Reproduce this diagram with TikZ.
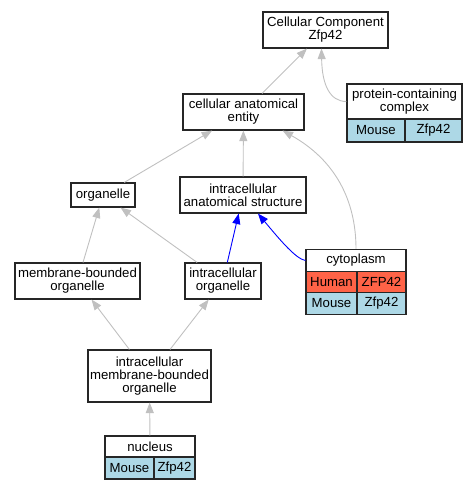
\documentclass[tikz,border=0pt]{standalone}
\usepackage{fontspec}
\setmainfont{Liberation Sans}
\usetikzlibrary{arrows.meta,calc}
\begin{document}
\begin{tikzpicture}[x=1pt, y=-1pt,
    box/.style={draw=black!85, line width=1.1pt, fill=white, inner sep=0pt, align=center,
      font=\fontsize{13.2}{13}\selectfont},
    gedge/.style={draw=edge-gray, line width=0.9pt, -{Triangle[length=10.5pt,width=8pt]}},
    bedge/.style={draw=blue, line width=0.9pt, -{Triangle[length=10.5pt,width=8pt]}}]
    \definecolor{edge-gray}{RGB}{192,192,192}
    \definecolor{mouse-blue}{RGB}{173,216,230}
    \definecolor{human-red}{RGB}{255,99,71}
    \def\cell#1#2#3#4#5#6{\node[box, minimum width=#3pt, minimum height=#4pt, fill=#5] (#1) at (#2) {#6}}
    \useasboundingbox (0,0) rectangle (476,491);
    \node[box, minimum width=125pt, minimum height=36pt] (ccz) at (325.5,30) {Cellular Component\\Zfp42};
    \node[box, minimum width=115pt, minimum height=35pt] (pcc) at (404.5,101.5) {protein-containing\\complex};
    \cell{pcc-m}{376,130.5}{58}{23}{mouse-blue}{Mouse};
    \cell{pcc-z}{433.5,130.5}{57}{23}{mouse-blue}{Zfp42};
    \node[box, minimum width=121pt, minimum height=36pt] (cae) at (243.5,112) {cellular anatomical\\entity};
    \node[box, minimum width=64pt, minimum height=24pt] (org) at (103,195) {organelle};
    \node[box, minimum width=126pt, minimum height=36pt] (ias) at (243,195) {intracellular\\anatomical structure};
    \node[box, minimum width=125pt, minimum height=36pt] (mbo) at (77.5,281) {membrane-bounded\\organelle};
    \node[box, minimum width=76pt, minimum height=36pt] (io) at (223,281) {intracellular\\organelle};
    \node[box, minimum width=100pt, minimum height=22pt] (cyt) at (356,260.5) {cytoplasm};
    \cell{cyt-hs}{331.5,282}{51}{21}{human-red}{Human};
    \cell{cyt-hg}{381.5,282}{49}{21}{human-red}{ZFP42};
    \cell{cyt-ms}{331.5,303.5}{51}{22}{mouse-blue}{Mouse};
    \cell{cyt-mg}{381.5,303.5}{49}{22}{mouse-blue}{Zfp42};
    \node[box, minimum width=123pt, minimum height=52pt] (imbo) at (149.5,376) {intracellular\\membrane-bounded\\organelle};
    \node[box, minimum width=90pt, minimum height=21pt] (nuc) at (150,446.5) {nucleus};
    \cell{nuc-m}{129.5,468}{49}{22}{mouse-blue}{Mouse};
    \cell{nuc-z}{174.5,468}{41}{22}{mouse-blue}{Zfp42};
    \draw[gedge] (cae) -- (ccz);
    \draw[gedge] (pcc.west) .. controls (330,101.5) and (322,85) .. ($(ccz.south)+(-4,0)$);
    \draw[gedge] (org) -- (cae);
    \draw[gedge] (ias) -- (cae);
    \draw[gedge] (cyt.north) .. controls (356,200) and (335,160) .. ($(cae.south east)+(-22,0)$);
    \draw[gedge] (mbo) -- (org);
    \draw[gedge] (io) -- (org);
    \draw[bedge] (io) -- (ias);
    \draw[bedge] (cyt.west) .. controls (296,259) and (280,240) .. ($(ias.south)+(15,0)$);
    \draw[gedge] (imbo) -- (mbo);
    \draw[gedge] (imbo) -- (io);
    \draw[gedge] (nuc) -- (imbo);
  \end{tikzpicture}
\end{document}
